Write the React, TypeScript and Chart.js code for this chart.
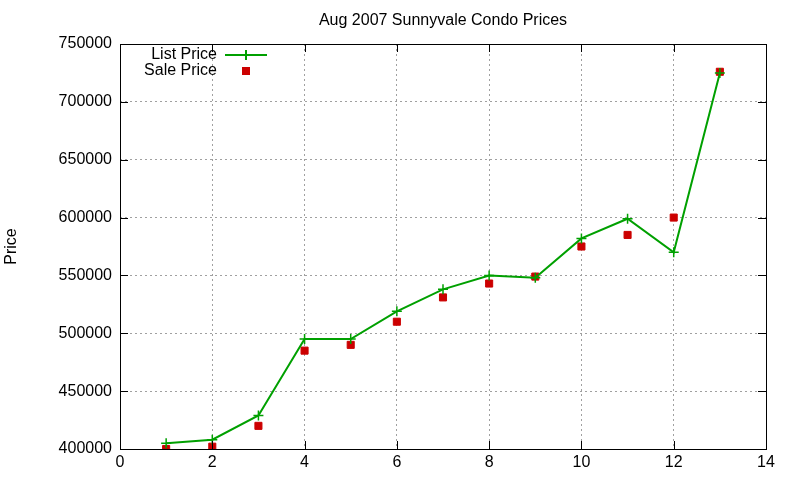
import { useEffect, useRef } from "react";
import { Chart, registerables } from "chart.js";

Chart.register(...registerables);

// Aug 2007 Sunnyvale condo listings
const listings = [1, 2, 3, 4, 5, 6, 7, 8, 9, 10, 11, 12, 13];
const listPrices = [405000, 408000, 429000, 495000, 495000, 519000, 538000, 550000, 548000, 582000, 599000, 570000, 725000];
const salePrices = [400000, 402000, 420000, 485000, 490000, 510000, 531000, 543000, 549000, 575000, 585000, 600000, 726000];
const xTicks = [0, 2, 4, 6, 8, 10, 12, 14];
const yTicks = [400000, 450000, 500000, 550000, 600000, 650000, 700000, 750000];

const GREEN = "#00a000";
const RED = "#cc0000";
const FONT = "'Liberation Sans', Arial, sans-serif";

// gnuplot-like frame: full border, inward tick marks on all four sides, key in the top-left
const gnuplotFrame = {
  id: "gnuplotFrame",
  afterDatasetsDraw(chart: Chart) {
    const { ctx, chartArea: a, scales } = chart;
    ctx.save();
    ctx.setLineDash([]);
    ctx.strokeStyle = "#000";
    ctx.lineWidth = 1;
    ctx.strokeRect(a.left + 0.5, a.top + 0.5, a.right - a.left, a.bottom - a.top);

    ctx.beginPath();
    for (const v of yTicks) {
      const y = Math.round(scales.y.getPixelForValue(v)) + 0.5;
      ctx.moveTo(a.left, y);
      ctx.lineTo(a.left + 8, y);
      ctx.moveTo(a.right, y);
      ctx.lineTo(a.right - 8, y);
    }
    for (const v of xTicks) {
      const x = Math.round(scales.x.getPixelForValue(v)) + 0.5;
      ctx.moveTo(x, a.bottom);
      ctx.lineTo(x, a.bottom - 8);
      ctx.moveTo(x, a.top);
      ctx.lineTo(x, a.top + 8);
    }
    ctx.stroke();

    // key
    ctx.font = `16px ${FONT}`;
    ctx.fillStyle = "#000";
    ctx.textAlign = "right";
    ctx.textBaseline = "middle";
    const tx = a.left + 97;
    const sx = a.left + 126;
    const y1 = a.top + 11;
    const y2 = a.top + 27;
    ctx.fillText("List Price", tx, y1);
    ctx.fillText("Sale Price", tx, y2);

    ctx.strokeStyle = GREEN;
    ctx.lineWidth = 2;
    ctx.beginPath();
    ctx.moveTo(sx - 21, y1);
    ctx.lineTo(sx + 21, y1);
    ctx.moveTo(sx, y1 - 5);
    ctx.lineTo(sx, y1 + 5);
    ctx.stroke();

    ctx.fillStyle = RED;
    ctx.fillRect(sx - 4, y2 - 4, 8, 8);
    ctx.restore();
  },
};

const CondoChart = () => {
  const canvasRef = useRef<HTMLCanvasElement>(null);
  const chartInstance = useRef<Chart | null>(null);

  useEffect(() => {
    document.body.style.margin = "0";
    if (!canvasRef.current) return;
    const ctx = canvasRef.current.getContext("2d");
    if (!ctx) return;

    chartInstance.current = new Chart(ctx, {
      type: "line",
      data: {
        labels: listings,
        datasets: [
          {
            label: "List Price",
            data: listings.map((x, i) => ({ x, y: listPrices[i] })),
            borderColor: GREEN,
            backgroundColor: GREEN,
            borderWidth: 2,
            pointStyle: "cross",
            pointRadius: 5,
            pointBorderWidth: 1.5,
            tension: 0,
            fill: false,
          },
          {
            label: "Sale Price",
            data: listings.map((x, i) => ({ x, y: salePrices[i] })),
            borderColor: RED,
            backgroundColor: RED,
            showLine: false,
            pointStyle: "rect",
            pointRadius: 5,
            pointBorderWidth: 1,
          },
        ],
      },
      options: {
        responsive: false,
        animation: false,
        layout: { padding: { left: 0, right: 34, top: 0, bottom: 0 } },
        plugins: {
          legend: { display: false },
          tooltip: { enabled: false },
          title: {
            display: true,
            text: "Aug 2007 Sunnyvale Condo Prices",
            color: "#000",
            fullSize: false,
            font: { family: FONT, size: 16, weight: "normal" },
            padding: { top: 11.4, bottom: 13.4 },
          },
        },
        scales: {
          x: {
            type: "linear",
            min: 0,
            max: 14,
            afterBuildTicks: (scale) => {
              scale.ticks = xTicks.map((value) => ({ value }));
            },
            afterFit: (scale) => {
              scale.height = 31;
            },
            border: { display: false, dash: [2, 3] },
            grid: {
              color: "#a0a0a0",
              lineWidth: 1,
              tickLength: 0,
              drawTicks: false,
            },
            ticks: {
              color: "#000",
              padding: 4,
              maxRotation: 0,
              font: { family: FONT, size: 16 },
            },
          },
          y: {
            type: "linear",
            min: 400000,
            max: 750000,
            afterBuildTicks: (scale) => {
              scale.ticks = yTicks.map((value) => ({ value }));
            },
            afterFit: (scale) => {
              scale.width = 120;
            },
            border: { display: false, dash: [2, 3] },
            grid: {
              color: "#a0a0a0",
              lineWidth: 1,
              tickLength: 0,
              drawTicks: false,
            },
            ticks: {
              color: "#000",
              padding: 8,
              font: { family: FONT, size: 16 },
              callback: (v) => String(v),
            },
            title: {
              display: true,
              text: "Price",
              color: "#000",
              font: { family: FONT, size: 16 },
              padding: { top: 2, bottom: 0 },
            },
          },
        },
      },
      plugins: [gnuplotFrame],
    });

    return () => {
      if (chartInstance.current) {
        chartInstance.current.destroy();
      }
    };
  }, []);

  return (
    <div style={{ width: 800, height: 480, background: "#fff" }}>
      <canvas ref={canvasRef} width={800} height={480} />
    </div>
  );
};

export default function App() {
  return <CondoChart />;
}
